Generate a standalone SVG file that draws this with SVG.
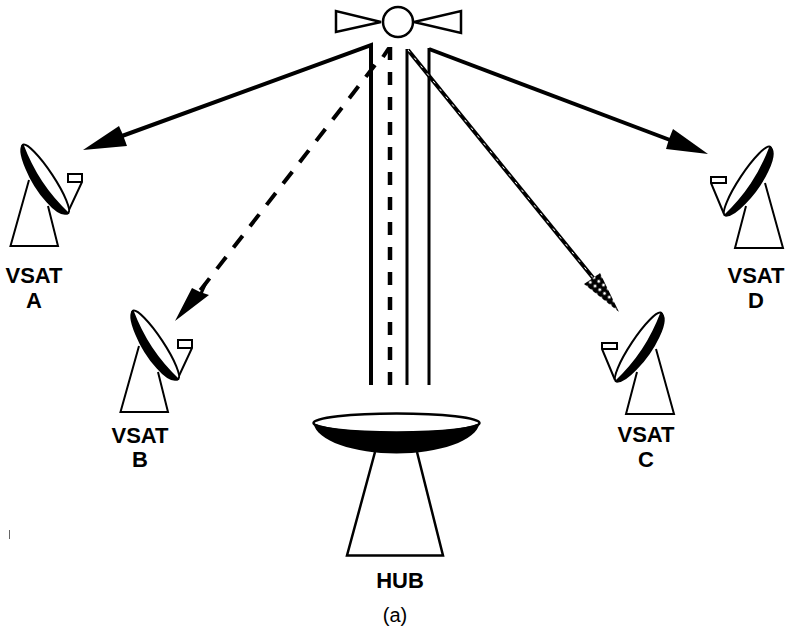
<svg xmlns="http://www.w3.org/2000/svg" width="786" height="630" viewBox="0 0 786 630">
<style>
.o{fill:#fff;stroke:#000;stroke-width:2;stroke-linejoin:miter}
.s{fill:#fff;stroke:#000;stroke-width:2.500;stroke-linejoin:miter}
.t{fill:#000;font-family:"Liberation Sans",Arial,sans-serif;font-size:22px;font-weight:bold;text-anchor:middle}
.c{fill:none;stroke:#000;stroke-width:4;stroke-linejoin:miter}
.h{fill:#000;stroke:none}
</style>
<defs>
<pattern id="chk" width="6" height="6" patternUnits="userSpaceOnUse" patternTransform="rotate(38)">
<rect width="6" height="6" fill="#000"/>
<circle cx="3" cy="3" r="1.500" fill="#fff"/>
</pattern>
<path id="cres" fill="#000" d="M-42 -1Q-42 7-20 11Q0 15 20 12Q42 9 42 -1Q20 4 0 4Q-20 4-42 -1Z"/>
<g id="dishL">
<path class="o" d="M29 180L10.500 246H58L48 206"/>
<path class="o" d="M68 212L82 182V174H68V182H82"/>
<g transform="translate(45.500 179) rotate(56.500)">
<ellipse class="o" rx="41" ry="8"/>
<use href="#cres"/>
</g>
</g>
<g id="dishR">
<path class="o" d="M765 183L783 248H735L746 206"/>
<path class="o" d="M724 214L711 183V177H726V183H711"/>
<g transform="translate(747.500 181) rotate(-56.500)">
<ellipse class="o" rx="41" ry="8"/>
<use href="#cres"/>
</g>
</g>
</defs>
<rect width="786" height="630" fill="#fff"/>
<g id="connectors">
<path class="c" d="M122 136L371 45V385"/>
<path fill="none" stroke="#000" stroke-width="4" d="M670 140L429 49"/>
<path fill="none" stroke="#000" stroke-width="3" d="M429 48V385"/>
<path fill="none" stroke="#000" stroke-width="3" d="M407 49V385"/>
<path fill="none" stroke="#000" stroke-width="4.500" stroke-dasharray="13 12" d="M390 47V385"/>
<path fill="none" stroke="#000" stroke-width="4" d="M389 48L383 57"/>
<path fill="none" stroke="#000" stroke-width="4" stroke-dasharray="15 12" d="M375 65L199 292"/>
<path fill="none" stroke="#000" stroke-width="4" d="M408 50L594 279"/>
<path fill="none" stroke="#fff" stroke-width="1" stroke-dasharray="3 7" d="M408 50L594 279"/>
<path class="h" d="M83 150L119 126L123 135L127 146Z"/>
<path class="h" d="M708 154L673 129L669 139L666 149Z"/>
<path class="h" d="M175 321L192 288L200 292L204 283L207 284L203 293L209 295Z"/>
<path fill="url(#chk)" d="M619 312L600 273L593 278L584 284Z"/>
</g>
<g id="satellite">
<path class="s" d="M381 22L336 11V32ZM414 22L461 11V33Z"/>
<circle class="s" cx="398" cy="22" r="15"/>
</g>
<g id="vsat-a"><use href="#dishL"/><text class="t" x="34" y="283">VSAT</text><text class="t" x="34" y="308">A</text></g>
<g id="vsat-b"><use href="#dishL" transform="translate(110 166)"/><text class="t" x="140" y="443">VSAT</text><text class="t" x="140" y="467">B</text></g>
<g id="vsat-c"><use href="#dishR" transform="translate(-109 166)"/><text class="t" x="646" y="442">VSAT</text><text class="t" x="646" y="467">C</text></g>
<g id="vsat-d"><use href="#dishR"/><text class="t" x="756" y="283">VSAT</text><text class="t" x="756" y="308">D</text></g>
<g id="hub">
<path d="M375 452L347 555.500H443L417 452" fill="#fff" stroke="#000" stroke-width="2.500"/>
<ellipse cx="396.500" cy="423" rx="83" ry="9.500" fill="#fff" stroke="#000" stroke-width="2.500"/>
<path fill="#000" d="M313.500 423C316 441 355 453.500 396.500 453.500C438 453.500 477 441 479.500 423C470 428 440 432 396.500 432C353 432 323 428 313.500 423Z"/>
<text class="t" x="400" y="588">HUB</text>
</g>
<text x="395" y="622" fill="#000" font-family="'Liberation Sans',Arial,sans-serif" font-size="20" text-anchor="middle">(a)</text>
<path d="M9.500 530V539" stroke="#666" stroke-width="1" fill="none"/>
</svg>
